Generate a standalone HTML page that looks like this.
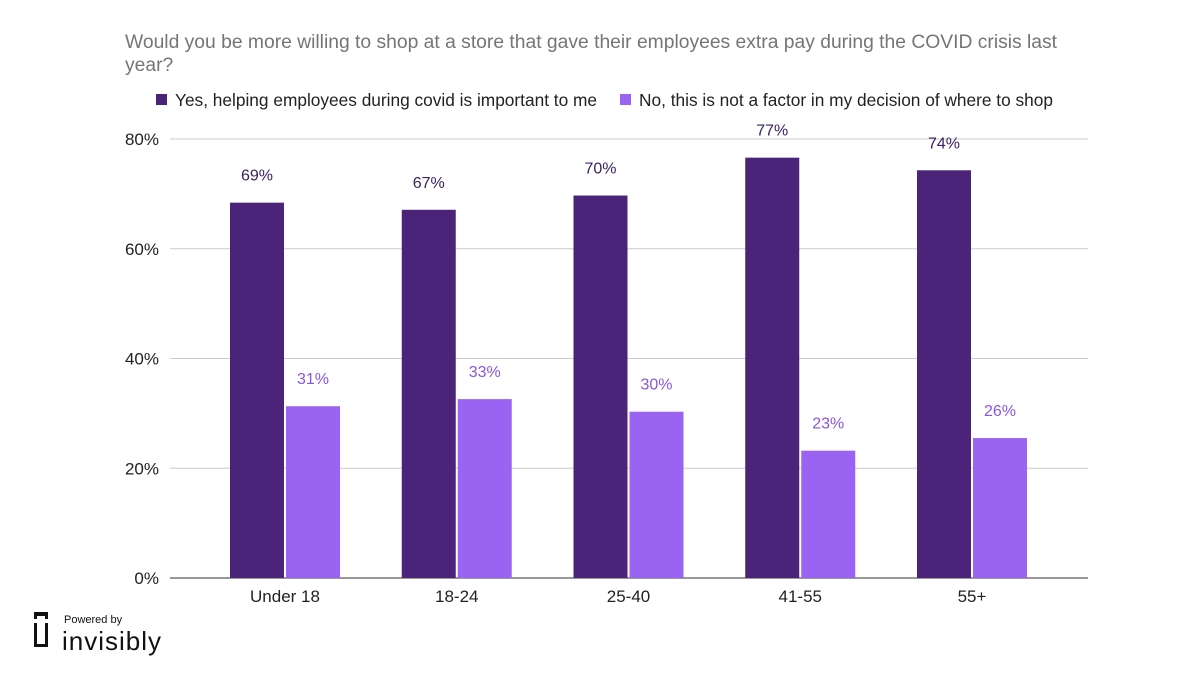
<!DOCTYPE html>
<html><head><meta charset="utf-8"><style>
body{margin:0;background:#fff;width:1200px;height:675px;overflow:hidden;font-family:"Liberation Sans",Arial,sans-serif}
</style></head><body>
<svg width="1200" height="675" xmlns="http://www.w3.org/2000/svg" id="chart">
<text x="125" y="48" font-size="19.3" fill="#757575">Would you be more willing to shop at a store that gave their employees extra pay during the COVID crisis last</text>
<text x="125" y="71" font-size="19.3" fill="#757575">year?</text>
<g>
<rect x="156" y="94" width="11" height="11" fill="#4b2479"/>
<text x="175" y="106" font-size="17.3" fill="#222">Yes, helping employees during covid is important to me</text>
<rect x="620" y="94" width="11" height="11" fill="#9a63f2"/>
<text x="639" y="106" font-size="17.3" fill="#222">No, this is not a factor in my decision of where to shop</text>
</g>
<g id="grid"></g><g id="bars"></g><g id="labels"></g>
<g>
<path d="M34 612 h14 v7 h-3 v-3 h-8 v3 h-3 z" fill="#111"/>
<path d="M34 623 h3 v21 h8 v-21 h3 v24 h-14 z" fill="#111"/>
<text x="64" y="623" font-size="11" fill="#111">Powered by</text>
<text x="62" y="650" font-size="26" fill="#111" letter-spacing="1">invisibly</text>
</g>
</svg>
<script>
const categories=["Under 18","18-24","25-40","41-55","55+"];
const yesValues=[68.4,67.1,69.7,76.6,74.3];
const noValues=[31.3,32.6,30.3,23.2,25.5];
const yesLabels=["69%","67%","70%","77%","74%"];
const noLabels=["31%","33%","30%","23%","26%"];
const yTicks=[0,20,40,60,80];
const ns="http://www.w3.org/2000/svg";
const x0=170,x1=1088,yBase=578,yTop=139,yMax=80;
const y=v=>yBase-(v/yMax)*(yBase-yTop);
const groupW=171.75;
const cx=i=>285+groupW*i;
const bw=54;
function mk(tag,attrs,parent){const e=document.createElementNS(ns,tag);for(const k in attrs)e.setAttribute(k,attrs[k]);document.getElementById(parent).appendChild(e);return e;}
yTicks.forEach(t=>{
 const l=mk("line",{x1:x0,x2:x1,y1:y(t),y2:y(t),stroke:t===0?"#333":"#ccc","stroke-width":1},"grid");
 
 
 const tx=mk("text",{x:159,y:y(t)+6,"font-size":17,fill:"#222","text-anchor":"end"},"grid");
 tx.textContent=t+"%";
 
 
});
categories.forEach((c,i)=>{
 const by=mk("rect",{x:cx(i)-bw-1,y:y(yesValues[i]),width:bw,height:yBase-y(yesValues[i]),fill:"#4b2479"},"bars");
 
 
 const bn=mk("rect",{x:cx(i)+1,y:y(noValues[i]),width:bw,height:yBase-y(noValues[i]),fill:"#9a63f2"},"bars");
 
 
 const ly=mk("text",{x:cx(i)-bw/2-1,y:y(yesValues[i])-22,"font-size":16,fill:"#3b2163","text-anchor":"middle"},"labels");
 ly.textContent=yesLabels[i];
 
 
 const ln=mk("text",{x:cx(i)+bw/2+1,y:y(noValues[i])-22,"font-size":16,fill:"#8a55e0","text-anchor":"middle"},"labels");
 ln.textContent=noLabels[i];
 
 
 const xl=mk("text",{x:cx(i),y:602,"font-size":17,fill:"#222","text-anchor":"middle"},"labels");
 xl.textContent=c;
 
 
});
</script>
</body></html>
